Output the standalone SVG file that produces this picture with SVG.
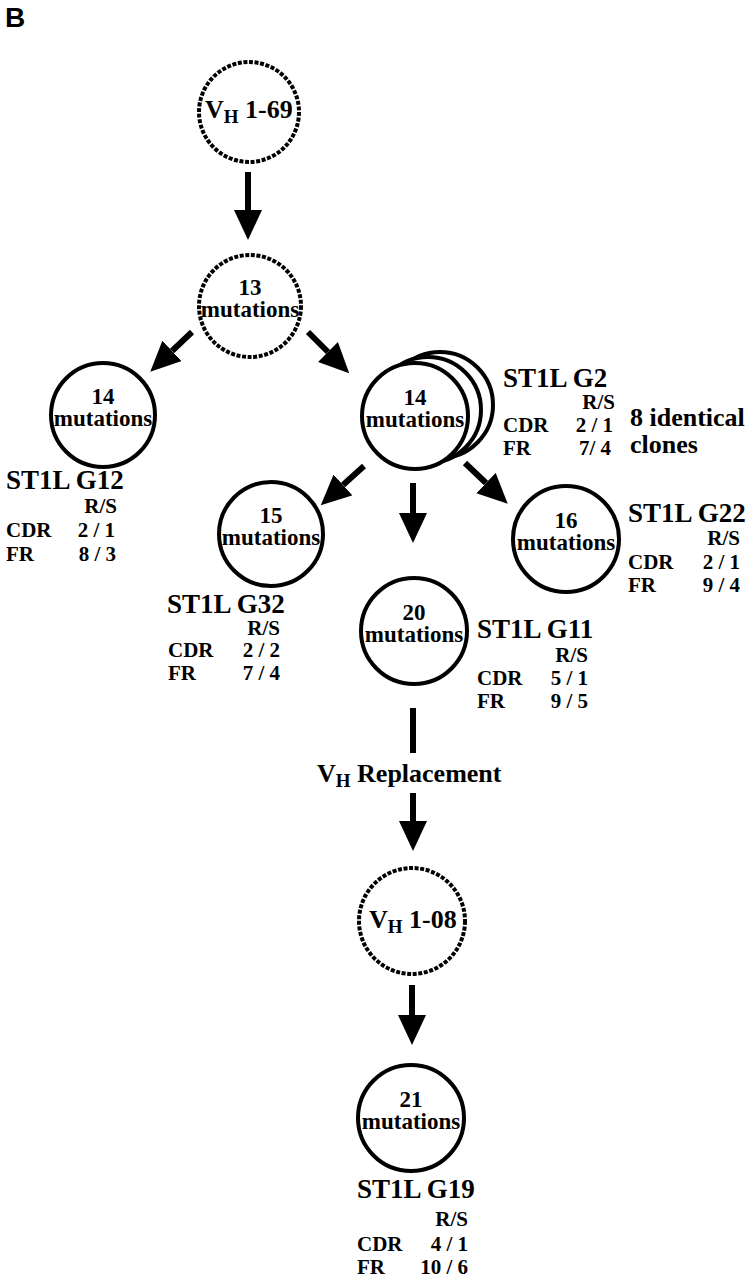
<svg xmlns="http://www.w3.org/2000/svg" width="755" height="1280" viewBox="0 0 755 1280">
<style>
.bg{fill:#fff}
.node{fill:#fff;stroke:#000;stroke-width:4}
.germ{fill:#fff;stroke:#000;stroke-width:4;stroke-dasharray:4 1.6}
.t{font-family:"Liberation Serif","Times New Roman",serif;font-weight:bold;fill:#000}
.num{font-size:23px;text-anchor:middle}
.head{font-size:27px}
.sm{font-size:21px}
.end{text-anchor:end}
.lbl{font-size:26px}
.sub{font-size:19px}
.shaft{stroke:#000;stroke-width:6;fill:none}
</style>
<defs>
<marker id="ah" markerUnits="userSpaceOnUse" markerWidth="32" markerHeight="30" refX="0" refY="14" orient="auto">
<path d="M0,0 L30,14 L0,28 z" fill="#000"/>
</marker>
</defs>
<rect class="bg" x="0" y="0" width="755" height="1280"/>
<text x="5" y="27" font-family="Liberation Sans, Arial, sans-serif" font-weight="bold" font-size="28">B</text>

<g id="connectors">
<line class="shaft" x1="248" y1="172" x2="248" y2="210" marker-end="url(#ah)"/>
<line class="shaft" x1="192" y1="332" x2="172" y2="351" marker-end="url(#ah)"/>
<line class="shaft" x1="308" y1="332" x2="328" y2="352" marker-end="url(#ah)"/>
<line class="shaft" x1="364" y1="466" x2="343" y2="485" marker-end="url(#ah)"/>
<line class="shaft" x1="465" y1="463" x2="486" y2="483" marker-end="url(#ah)"/>
<line class="shaft" x1="413" y1="483" x2="413" y2="513" marker-end="url(#ah)"/>
<line class="shaft" x1="413" y1="708" x2="413" y2="753"/>
<line class="shaft" x1="413" y1="793" x2="413" y2="821" marker-end="url(#ah)"/>
<line class="shaft" x1="412" y1="985" x2="412" y2="1015" marker-end="url(#ah)"/>
</g>

<g id="n-vh169">
<circle class="germ" cx="249" cy="112" r="50"/>
<text class="t lbl" x="205" y="118">V<tspan class="sub" dy="5">H</tspan><tspan dy="-5"> 1-69</tspan></text>
</g>

<g id="n-13">
<circle class="germ" cx="250" cy="306" r="51"/>
<text class="t num" x="250" y="295">13</text>
<text class="t num" x="250" y="317">mutations</text>
</g>

<g id="n-g12">
<circle class="node" cx="103" cy="415" r="52"/>
<text class="t num" x="103" y="404">14</text>
<text class="t num" x="103" y="426">mutations</text>
<text class="t head" x="6" y="489">ST1L G12</text>
<text class="t sm end" x="117" y="513">R/S</text>
<text class="t sm" x="6" y="537">CDR</text>
<text class="t sm end" x="115" y="537">2 / 1</text>
<text class="t sm" x="6" y="561">FR</text>
<text class="t sm end" x="116" y="561">8 / 3</text>
</g>

<g id="n-g2">
<circle class="node" cx="440" cy="405" r="53"/>
<circle class="node" cx="428" cy="410" r="53"/>
<circle class="node" cx="415" cy="416" r="53"/>
<text class="t num" x="415" y="405">14</text>
<text class="t num" x="415" y="427">mutations</text>
<text class="t head" x="503" y="387">ST1L G2</text>
<text class="t sm end" x="615" y="409">R/S</text>
<text class="t sm" x="503" y="432">CDR</text>
<text class="t sm end" x="613" y="432">2 / 1</text>
<text class="t sm" x="503" y="455">FR</text>
<text class="t sm end" x="611" y="455">7/ 4</text>
<text class="t lbl" x="630" y="426">8 identical</text>
<text class="t lbl" x="630" y="453">clones</text>
</g>

<g id="n-g32">
<circle class="node" cx="271" cy="534" r="52"/>
<text class="t num" x="271" y="523">15</text>
<text class="t num" x="271" y="545">mutations</text>
<text class="t head" x="167" y="613">ST1L G32</text>
<text class="t sm end" x="280" y="635">R/S</text>
<text class="t sm" x="168" y="657">CDR</text>
<text class="t sm end" x="280" y="657">2 / 2</text>
<text class="t sm" x="168" y="680">FR</text>
<text class="t sm end" x="280" y="680">7 / 4</text>
</g>

<g id="n-g22">
<circle class="node" cx="566" cy="539" r="53"/>
<text class="t num" x="566" y="528">16</text>
<text class="t num" x="566" y="550">mutations</text>
<text class="t head" x="628" y="522">ST1L G22</text>
<text class="t sm end" x="740" y="545">R/S</text>
<text class="t sm" x="628" y="569">CDR</text>
<text class="t sm end" x="740" y="569">2 / 1</text>
<text class="t sm" x="628" y="592">FR</text>
<text class="t sm end" x="740" y="592">9 / 4</text>
</g>

<g id="n-g11">
<circle class="node" cx="414" cy="631" r="53"/>
<text class="t num" x="414" y="620">20</text>
<text class="t num" x="414" y="642">mutations</text>
<text class="t head" x="477" y="638">ST1L G11</text>
<text class="t sm end" x="588" y="662">R/S</text>
<text class="t sm" x="477" y="685">CDR</text>
<text class="t sm end" x="588" y="685">5 / 1</text>
<text class="t sm" x="477" y="708">FR</text>
<text class="t sm end" x="588" y="708">9 / 5</text>
</g>

<g id="l-replacement">
<text class="t lbl" x="317" y="782">V<tspan class="sub" dy="5">H</tspan><tspan dy="-5"> Replacement</tspan></text>
</g>

<g id="n-vh108">
<circle class="germ" cx="412" cy="921" r="53"/>
<text class="t lbl" x="369" y="928">V<tspan class="sub" dy="5">H</tspan><tspan dy="-5"> 1-08</tspan></text>
</g>

<g id="n-g19">
<circle class="node" cx="411" cy="1118" r="53"/>
<text class="t num" x="411" y="1107">21</text>
<text class="t num" x="411" y="1129">mutations</text>
<text class="t head" x="357" y="1198">ST1L G19</text>
<text class="t sm end" x="468" y="1226">R/S</text>
<text class="t sm" x="357" y="1251">CDR</text>
<text class="t sm end" x="468" y="1251">4 / 1</text>
<text class="t sm" x="357" y="1274">FR</text>
<text class="t sm end" x="468" y="1274">10 / 6</text>
</g>
</svg>
